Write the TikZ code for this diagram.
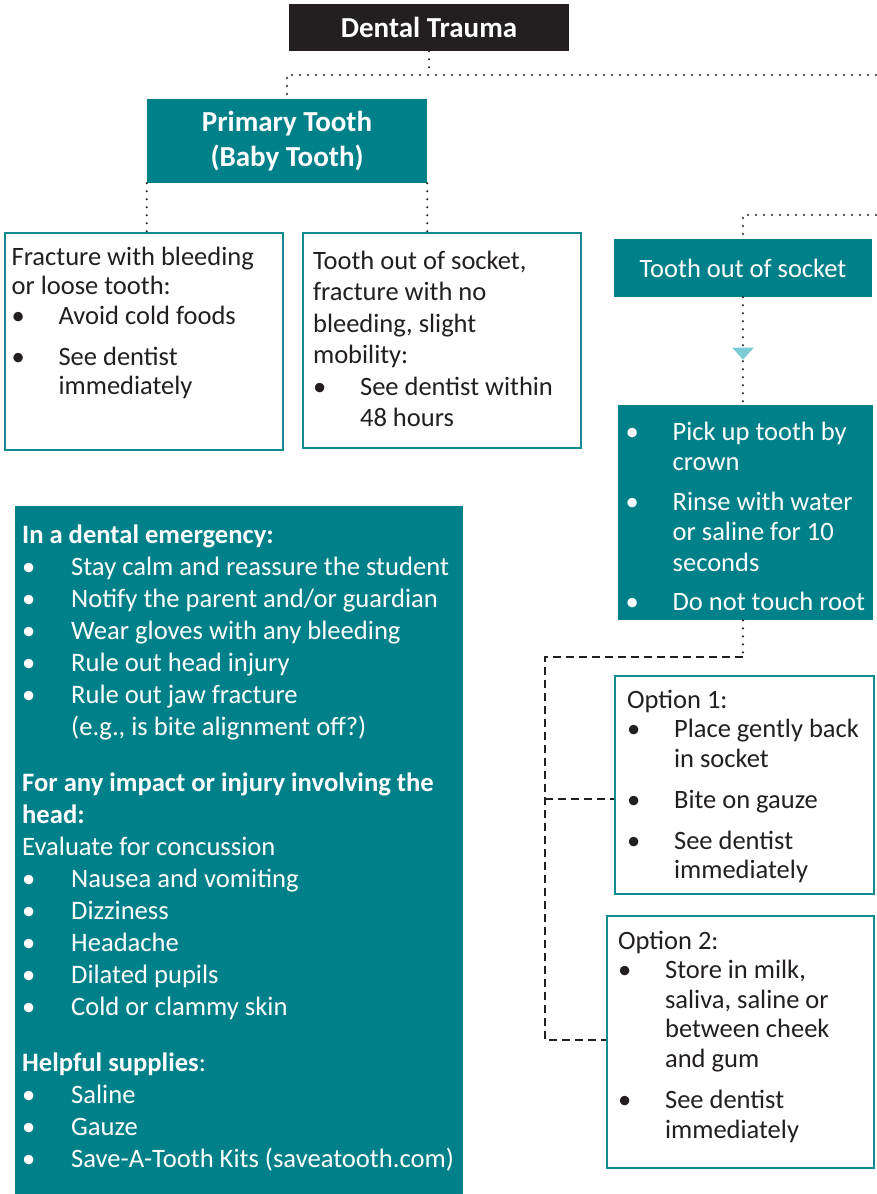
\documentclass[tikz,border=0pt]{standalone}
\usepackage{fontspec}
\setmainfont{Carlito}
\usetikzlibrary{arrows.meta,decorations.markings}
\definecolor{teal1}{RGB}{0,129,138}
\definecolor{tborder}{RGB}{20,138,146}
\definecolor{ink}{RGB}{35,31,32}
\definecolor{acyan}{RGB}{126,204,211}
\newlength\bulw
\setlength\bulw{47pt}
\newcommand\bul{\makebox[\bulw][l]{•}}
\newcommand\ind{\hspace*{\bulw}}
\newcommand\boxtext[4]{\parbox[c][#2][t]{#1}{\raggedright\rightskip=-40pt plus 1fil\rule{0pt}{#3}#4}}
\begin{document}
\begin{tikzpicture}[x=1pt,y=-1pt,
  every node/.style={font=\fontsize{26.5}{29.5}\selectfont, text=ink},
  titlebox/.style={fill=ink, text=white, font=\bfseries\fontsize{29}{33}\selectfont, minimum width=280pt, minimum height=47pt, inner sep=0pt},
  tealbox/.style={fill=teal1, text=white, inner sep=0pt},
  wbox/.style={draw=tborder, line width=2.2pt, fill=white, inner ysep=0pt, anchor=north west},
  dotline/.style={line width=2.3pt, line cap=round, dash pattern=on 0pt off 8pt, draw=ink},
  dashline/.style={line width=2.5pt, dash pattern=on 8pt off 5pt, draw=ink},
]
\useasboundingbox (0,0) rectangle (876,1194);

% nodes
\node[titlebox] (title) at (429,27.5) {Dental Trauma};
\node[tealbox, font=\bfseries\fontsize{29}{35}\selectfont, minimum width=280pt, minimum height=84pt, align=center] (prim) at (287,141) {Primary Tooth\\(Baby Tooth)};

\node[wbox, inner xsep=6.5pt] (fa) at (4,232) {\boxtext{265pt}{217pt}{32pt}{%
Fracture with bleeding\\
or loose tooth:\\
\bul Avoid cold foods\\[11.5pt]
\bul See dentist\\
\ind immediately}};

\node[wbox, inner xsep=10pt, font=\fontsize{26.5}{31.5}\selectfont] (fb) at (302,232) {\boxtext{258pt}{215pt}{36pt}{%
Tooth out of socket,\\
fracture with no\\
bleeding, slight\\
mobility:\\
\bul See dentist within\\
\ind 48 hours}};

\node[tealbox, minimum width=258pt, minimum height=58pt] (sock) at (743,268) {Tooth out of socket};

\node[tealbox, anchor=north west, inner xsep=7.5pt, font=\fontsize{26.5}{30.5}\selectfont] (pick) at (618,405) {\boxtext{240pt}{215pt}{35pt}{%
\bul Pick up tooth by\\
\ind crown\\[9pt]
\bul Rinse with water\\
\ind or saline for 10\\
\ind seconds\\[9pt]
\bul Do not touch root}};

\node[wbox, inner xsep=12pt] (opt1) at (614,675) {\boxtext{235pt}{218pt}{32pt}{%
Option 1:\\
\bul Place gently back\\
\ind in socket\\[11.5pt]
\bul Bite on gauze\\[11.5pt]
\bul See dentist\\
\ind immediately}};

\node[wbox, inner xsep=11pt] (opt2) at (606,915) {\boxtext{245pt}{252pt}{33pt}{%
Option 2:\\
\bul Store in milk,\\
\ind saliva, saline or\\
\ind between cheek\\
\ind and gum\\[12pt]
\bul See dentist\\
\ind immediately}};

\node[tealbox, anchor=north west, inner xsep=7pt, font=\fontsize{26.6}{32}\selectfont] (emerg) at (15,506) {\boxtext{434pt}{688pt}{37pt}{%
\setlength\bulw{49pt}%
\textbf{In a dental emergency:}\\
\bul Stay calm and reassure the student\\
\bul Notify the parent and/or guardian\\
\bul Wear gloves with any bleeding\\
\bul Rule out head injury\\
\bul Rule out jaw fracture\\
\ind (e.g., is bite alignment off?)\\[24pt]
\textbf{For any impact or injury involving the}\\
\textbf{head:}\\
Evaluate for concussion\\
\bul Nausea and vomiting\\
\bul Dizziness\\
\bul Headache\\
\bul Dilated pupils\\
\bul Cold or clammy skin\\[24pt]
\textbf{Helpful supplies}:\\
\bul Saline\\
\bul Gauze\\
\bul Save-A-Tooth Kits (saveatooth.com)}};

% junction coordinates
\coordinate (j1r) at (876,75);
\coordinate (j2r) at (876,215);
\coordinate (j3) at (743,657);
\coordinate (j4) at (545,657);
\coordinate (j5) at (545,1040);
\coordinate (j6) at (545,799);

% connectors
\draw[dotline] (title.south) -- (title.south |- j1r);
\draw[dotline] (j1r) -- (prim.north |- j1r) -- (prim.north);
\draw[dotline] (prim.south west) -- (prim.south west |- fa.north);
\draw[dotline] (prim.south east) -- (prim.south east |- fb.north);
\draw[dotline] (j2r) -- (sock.north |- j2r) -- (sock.north);
\draw[dotline, postaction={decorate}, decoration={markings, mark=at position 0.58 with {\arrow[acyan]{Triangle[width=21pt,length=12pt]}}}] (sock.south) -- (sock.south |- pick.north);
\draw[dotline] (pick.south -| j3) -- (j3);
\draw[dashline] (j3) -- (j4) -- (j5) -- (j5 -| opt2.west);
\draw[dashline] (j6) -- (j6 -| opt1.west);
\end{tikzpicture}
\end{document}
